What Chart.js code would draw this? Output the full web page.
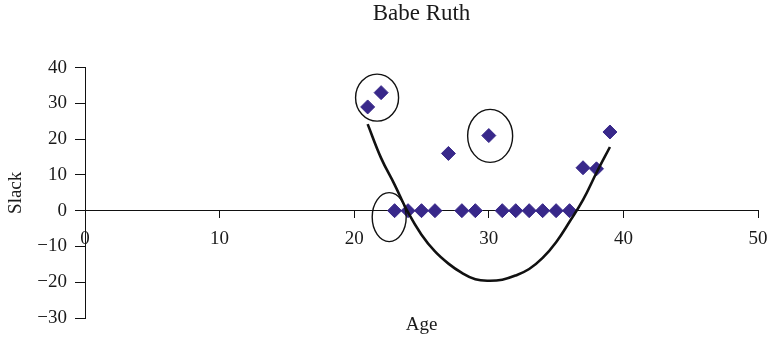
<!DOCTYPE html>
<html>
<head>
<meta charset="utf-8">
<title>Babe Ruth</title>
<script src="https://cdn.jsdelivr.net/npm/chart.js@4.4.1/dist/chart.umd.min.js"></script>
<style>
  html, body { margin: 0; padding: 0; background: #ffffff; }
  #wrap { width: 769px; height: 338px; position: relative; }
</style>
</head>
<body>
<div id="wrap"><canvas id="chart"></canvas></div>
<script>
// Season-by-season slack values by age
const ages  = [21, 22, 23, 24, 25, 26, 27, 28, 29, 30, 31, 32, 33, 34, 35, 36, 37, 38, 39];
const slack = [29, 33, 0, 0, 0, 0, 16, 0, 0, 21, 0, 0, 0, 0, 0, 0, 12, 11.7, 22];

// Fitted trend curve, read at each age
const trendAges = [21, 22, 23, 24, 25, 26, 27, 28, 29, 30, 31, 32, 33, 34, 35, 36, 37, 38, 39];
const trend     = [24.2, 14.7, 7.3, -0.5, -6.7, -11.4, -14.8, -17.4, -19.2, -19.6, -19.3, -18.1, -16.3, -13.2, -8.8, -3.1, 3.0, 10.6, 17.8];

// Axis ticks
const xTicks = [0, 10, 20, 30, 40, 50];
const yTicks = [-30, -20, -10, 0, 10, 20, 30, 40];

// Highlight rings (centre in data units, radii in pixels)
const rings = [
  { x: 21.7, y: 31.6, rx: 21.5, ry: 23.5 },
  { x: 30.1, y: 20.9, rx: 22.5, ry: 26.5 },
  { x: 22.6, y: -1.8, rx: 17,   ry: 24.5 }
];

const serif = "'Liberation Serif', 'Times New Roman', serif";
const ink = '#1a1a1a';

const ringPlugin = {
  id: 'rings',
  afterDatasetsDraw(chart) {
    const { ctx, scales: { x, y } } = chart;
    ctx.save();
    ctx.strokeStyle = '#111111';
    ctx.lineWidth = 1.4;
    rings.forEach(r => {
      ctx.beginPath();
      ctx.ellipse(x.getPixelForValue(r.x), y.getPixelForValue(r.y), r.rx, r.ry, 0, 0, Math.PI * 2);
      ctx.stroke();
    });
    ctx.restore();
  }
};

new Chart(document.getElementById('chart'), {
  type: 'scatter',
  data: {
    datasets: [
      {
        type: 'line',
        label: 'Trend',
        data: trendAges.map((a, i) => ({ x: a, y: trend[i] })),
        borderColor: '#111111',
        borderWidth: 2.6,
        pointRadius: 0,
        tension: 0.4,
        fill: false,
        order: 0
      },
      {
        label: 'Slack',
        data: ages.map((a, i) => ({ x: a, y: slack[i] })),
        pointStyle: 'rectRot',
        pointRadius: 7,
        pointBorderWidth: 1,
        backgroundColor: '#38288a',
        borderColor: '#38288a',
        order: 1
      }
    ]
  },
  options: {
    responsive: true,
    maintainAspectRatio: false,
    devicePixelRatio: 1,
    animation: false,
    layout: { padding: { left: 0, right: 11, top: 0, bottom: 0 } },
    plugins: {
      legend: { display: false },
      tooltip: { enabled: false },
      title: {
        display: true,
        text: 'Babe Ruth',
        fullSize: false,
        color: ink,
        font: { family: serif, size: 23, weight: 'normal' },
        padding: { top: 0, bottom: 40 }
      }
    },
    scales: {
      x: {
        type: 'linear',
        position: { y: 0 },
        min: 0,
        max: 50,
        afterBuildTicks: s => { s.ticks = xTicks.map(v => ({ value: v })); },
        afterFit: s => { s.paddingLeft = 0; s.paddingRight = 0; },
        border: { display: true, color: '#111111', width: 1 },
        grid: { display: true, drawOnChartArea: false, drawTicks: true, tickLength: 7, color: '#111111' },
        ticks: {
          color: ink,
          padding: 10,
          maxRotation: 0,
          font: { family: serif, size: 19 }
        }
      },
      x2: {
        type: 'linear',
        position: 'bottom',
        afterFit: s => { s.height = 20; },
        border: { display: false },
        grid: { display: false, drawTicks: false },
        ticks: { display: false },
        title: {
          display: true,
          text: 'Age',
          color: ink,
          font: { family: serif, size: 19 },
          padding: { top: 0, bottom: 2 }
        }
      },
      y: {
        type: 'linear',
        position: 'left',
        min: -30,
        max: 40,
        afterBuildTicks: s => { s.ticks = yTicks.map(v => ({ value: v })); },
        afterFit: s => { s.width = 85; },
        border: { display: true, color: '#111111', width: 1 },
        grid: { display: true, drawOnChartArea: false, drawTicks: true, tickLength: 10, color: '#111111' },
        ticks: {
          color: ink,
          padding: 8,
          font: { family: serif, size: 19 },
          callback: v => (v < 0 ? '\u2212' + Math.abs(v) : String(v))
        },
        title: {
          display: true,
          text: 'Slack',
          color: ink,
          font: { family: serif, size: 19 },
          padding: { top: 5, bottom: 0 }
        }
      }
    }
  },
  plugins: [ringPlugin]
});
</script>
</body>
</html>
